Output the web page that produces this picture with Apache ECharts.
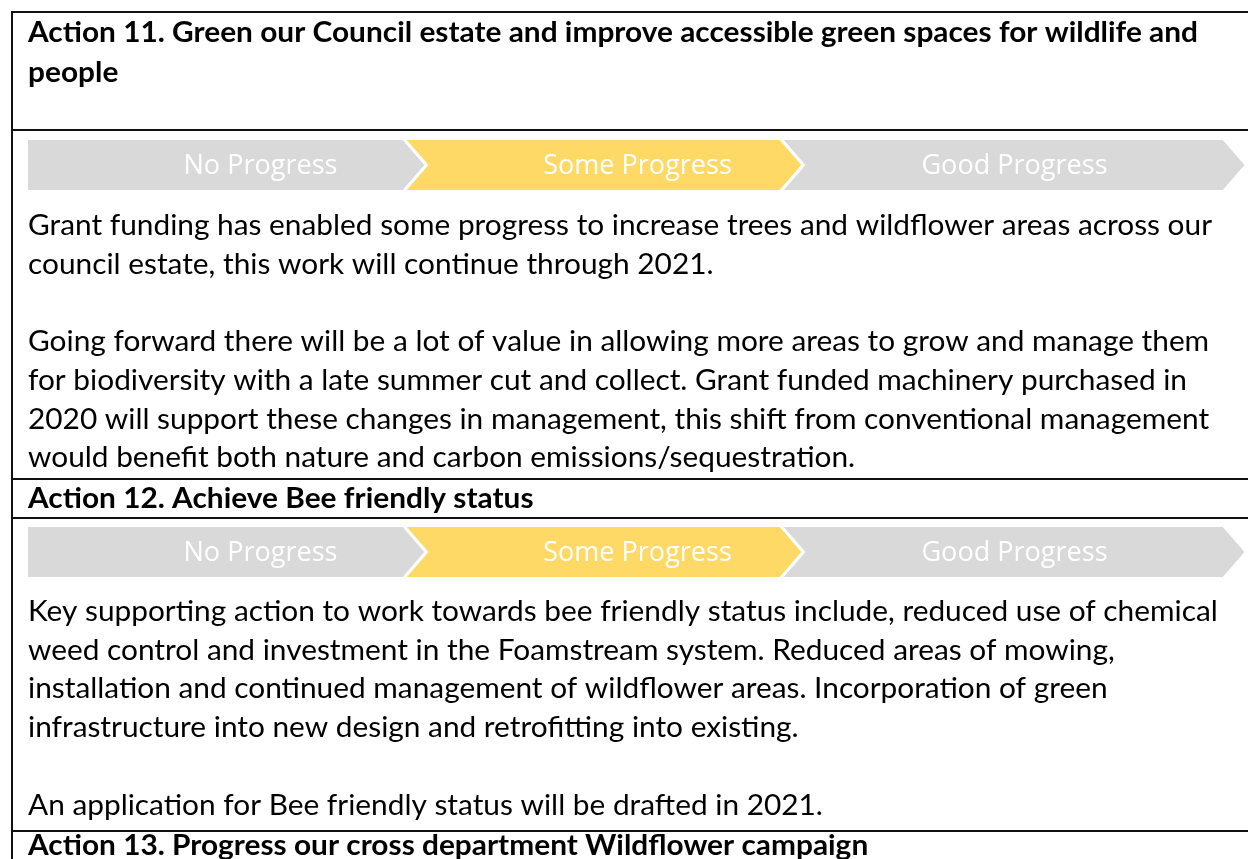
<!DOCTYPE html>
<html>
<head>
<meta charset="utf-8">
<script src="https://cdn.jsdelivr.net/npm/echarts@6/dist/echarts.min.js"></script>
<style>
  html, body { margin: 0; padding: 0; background: #fff; }
  #chart { width: 1248px; height: 859px; }
</style>
</head>
<body>
<div id="chart"></div>
<script>
// progress stages (x units along the chevron bar)
const stages = ['No Progress', 'Some Progress', 'Good Progress'];
const stageStart = [0, 1, 2];
const stageEnd = [1, 2, 3.175];
// current stage per action row (index into stages)
const actionStatus = [1, 1];

// document text, line by line
const action11Title = ['Action 11. Green our Council estate and improve accessible green spaces for wildlife and', 'people'];
const action11Body = [
  'Grant funding has enabled some progress to increase trees and wildflower areas across our',
  'council estate, this work will continue through 2021.',
  '',
  'Going forward there will be a lot of value in allowing more areas to grow and manage them',
  'for biodiversity with a late summer cut and collect. Grant funded machinery purchased in',
  '2020 will support these changes in management, this shift from conventional management',
  'would benefit both nature and carbon emissions/sequestration.'
];
const action12Title = ['Action 12. Achieve Bee friendly status'];
const action12Body = [
  'Key supporting action to work towards bee friendly status include, reduced use of chemical',
  'weed control and investment in the Foamstream system. Reduced areas of mowing,',
  'installation and continued management of wildflower areas. Incorporation of green',
  'infrastructure into new design and retrofitting into existing.',
  '',
  'An application for Bee friendly status will be drafted in 2021.'
];
const action13Title = ['Action 13. Progress our cross department Wildflower campaign'];

const chart = echarts.init(document.getElementById('chart'));

// fonts: squeeze substitutes to the width of the original Calibri lines
const ctx = document.createElement('canvas').getContext('2d');
function measure(text, font) {
  ctx.font = font;
  return ctx.measureText(text).width;
}
const bodyFont = '28px Lato';
const boldFont = 'bold 28px Lato';
const chevFont = '28px "Open Sans"';
const bodyScale = 1184 / measure(action11Body[0], bodyFont);
const boldScale = 1170 / measure(action11Title[0], boldFont);
const chevScale = 154 / measure(stages[0], chevFont);

const X = 28;
const LH = 38.7;
const elements = [];

function addLines(lines, y0, lh, font, scale) {
  lines.forEach((t, i) => {
    if (!t) return;
    elements.push({
      type: 'text', x: X, y: y0 + i * lh, scaleX: scale, silent: true,
      style: {text: t, font: font, fill: '#000', verticalAlign: 'middle'}
    });
  });
}

addLines(action11Title, 33, 40, boldFont, boldScale);
addLines(action11Body, 226, LH, bodyFont, bodyScale);
addLines(action12Title, 499, 40, boldFont, boldScale);
addLines(action12Body, 612, LH, bodyFont, bodyScale);
addLines(action13Title, 846, 40, boldFont, boldScale);

// table rules
const rule = {stroke: '#111', lineWidth: 2};
[12, 130, 479, 518, 831].forEach(y => {
  elements.push({type: 'line', silent: true, shape: {x1: 11, y1: y, x2: 1248, y2: y}, style: rule});
});
elements.push({type: 'line', silent: true, shape: {x1: 12, y1: 11, x2: 12, y2: 859}, style: rule});

function chevronData(status) {
  return stages.map((s, i) => [i, stageStart[i], stageEnd[i], i === status ? 1 : 0]);
}

function renderChevron(params, api) {
  const i = api.value(0);
  const x0 = api.coord([api.value(1), 0])[0];
  const x1 = api.coord([api.value(2), 0])[0];
  const cs = params.coordSys;
  const top = cs.y, bottom = cs.y + cs.height, mid = cs.y + cs.height / 2;
  const d = 23;
  const pts = [[x0, top], [x1, top], [x1 + d, mid], [x1, bottom], [x0, bottom]];
  if (i > 0) pts.push([x0 + d, mid]);
  return {
    type: 'group',
    children: [
      {
        type: 'polygon', shape: {points: pts},
        style: {fill: api.value(3) ? '#FFD966' : '#D9D9D9', stroke: '#fff', lineWidth: 3}
      },
      {
        type: 'text', x: x0 + 234, y: mid + 1, scaleX: chevScale,
        style: {text: stages[i], font: chevFont, fill: '#fff', align: 'center', verticalAlign: 'middle'}
      }
    ]
  };
}

const unit = 377;
const grids = [138.5, 525.5].map(top => ({left: 26.5, top: top, width: 3.2 * unit, height: 53}));

chart.setOption({
  backgroundColor: '#fff',
  animation: false,
  grid: grids,
  xAxis: grids.map((g, k) => ({type: 'value', gridIndex: k, min: 0, max: 3.2, show: false})),
  yAxis: grids.map((g, k) => ({type: 'value', gridIndex: k, min: 0, max: 1, show: false})),
  series: actionStatus.map((st, k) => ({
    type: 'custom',
    xAxisIndex: k,
    yAxisIndex: k,
    renderItem: renderChevron,
    data: chevronData(st),
    silent: true
  })),
  graphic: {elements: elements}
});
</script>
</body>
</html>
